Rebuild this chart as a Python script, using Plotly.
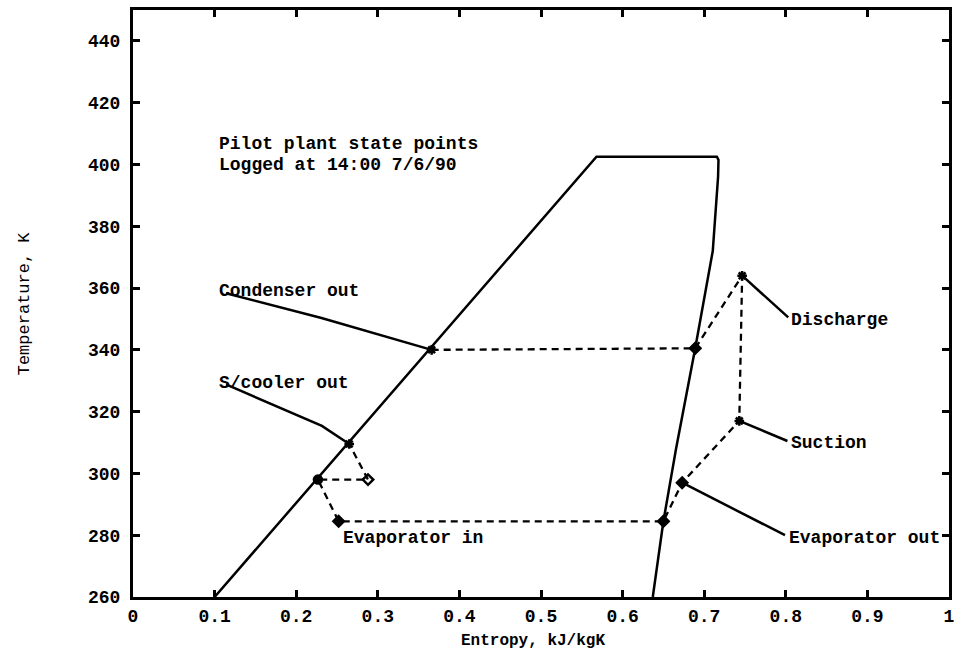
import plotly.graph_objects as go

# Saturation dome (entropy kJ/kgK, temperature K)
dome_s = [0.100, 0.568, 0.7155, 0.7175, 0.717, 0.7105, 0.689, 0.6655, 0.650, 0.637]
dome_T = [260, 402.5, 402.5, 401.5, 396, 372, 340.5, 308, 284.5, 260]

# Cycle state points (dashed path)
cycle_s = [0.366, 0.689, 0.7465, 0.743, 0.673, 0.650, 0.252, 0.2266, 0.288, 0.265]
cycle_T = [340, 340.5, 364, 317, 297, 284.5, 284.5, 298, 298, 309.5]
cycle_sym = ["asterisk-open", "diamond", "asterisk-open", "asterisk-open", "diamond",
             "diamond", "diamond", "circle", "diamond-open", "asterisk-open"]

# Leader lines from labels to points
leader_s = [0.114, 0.231, 0.366, None, 0.114, 0.2315, 0.265, None,
            0.803, 0.7465, None, 0.802, 0.743, None, 0.799, 0.673]
leader_T = [358.3, 350.3, 340, None, 328.8, 315.4, 309.5, None,
            350.5, 364, None, 310.5, 317, None, 280, 297]

# Labels
label_text = ["Pilot plant state points", "Logged at 14:00 7/6/90", "Condenser out",
              "S/cooler out", "Evaporator in", "Discharge", "Suction", "Evaporator out"]
label_s = [0.103, 0.103, 0.103, 0.103, 0.255, 0.804, 0.804, 0.802]
label_T = [406.5, 399.7, 359.2, 329.4, 279.2, 349.8, 310, 279]

x_ticks = [0, 0.1, 0.2, 0.3, 0.4, 0.5, 0.6, 0.7, 0.8, 0.9, 1]
x_ticklabels = ["0", "0.1", "0.2", "0.3", "0.4", "0.5", "0.6", "0.7", "0.8", "0.9", "1"]
y_ticks = [260, 280, 300, 320, 340, 360, 380, 400, 420, 440]

FONT = "Liberation Mono"

fig = go.Figure()
fig.add_trace(go.Scatter(x=dome_s, y=dome_T, mode="lines",
                         line=dict(color="black", width=2.5), hoverinfo="skip"))
fig.add_trace(go.Scatter(x=leader_s, y=leader_T, mode="lines",
                         line=dict(color="black", width=2.5), hoverinfo="skip"))
fig.add_trace(go.Scatter(x=cycle_s, y=cycle_T, mode="lines+markers",
                         line=dict(color="black", width=2.3, dash="7px,5px"),
                         marker=dict(symbol=cycle_sym, size=8, color="black",
                                     line=dict(color="black", width=2.5))))

for t, s, T in zip(label_text, label_s, label_T):
    fig.add_annotation(x=s, y=T, text=t, showarrow=False, xanchor="left", yanchor="middle",
                       font=dict(family=FONT, size=18, color="black", weight="bold"))

fig.add_annotation(x=0.5, y=0, xref="paper", yref="paper", text="Entropy, kJ/kgK",
                   showarrow=False, xanchor="center", yanchor="top", yshift=-33, xshift=-8,
                   font=dict(family=FONT, size=16, color="black", weight="bold"))
fig.add_annotation(x=-0.1326, y=0.5, xref="paper", yref="paper", text="Temperature, K",
                   showarrow=False, textangle=-90, xanchor="center", yanchor="middle",
                   font=dict(family=FONT, size=17, color="black"))

axis_common = dict(showline=True, linecolor="black", linewidth=3, mirror="ticks",
                   ticks="inside", ticklen=7, tickwidth=2.5, tickcolor="black",
                   showgrid=False, zeroline=False,
                   tickfont=dict(family=FONT, size=18, color="black", weight="bold"))

fig.update_xaxes(range=[0, 1], tickvals=x_ticks, ticktext=x_ticklabels,
                 ticklabelstandoff=0, **axis_common)
fig.update_yaxes(range=[260, 450], tickvals=y_ticks, ticklabelstandoff=6, **axis_common)

fig.update_layout(width=962, height=649, showlegend=False,
                  margin=dict(l=133, r=7, t=7, b=52),
                  paper_bgcolor="white", plot_bgcolor="white")

fig.write_html("out.html")
